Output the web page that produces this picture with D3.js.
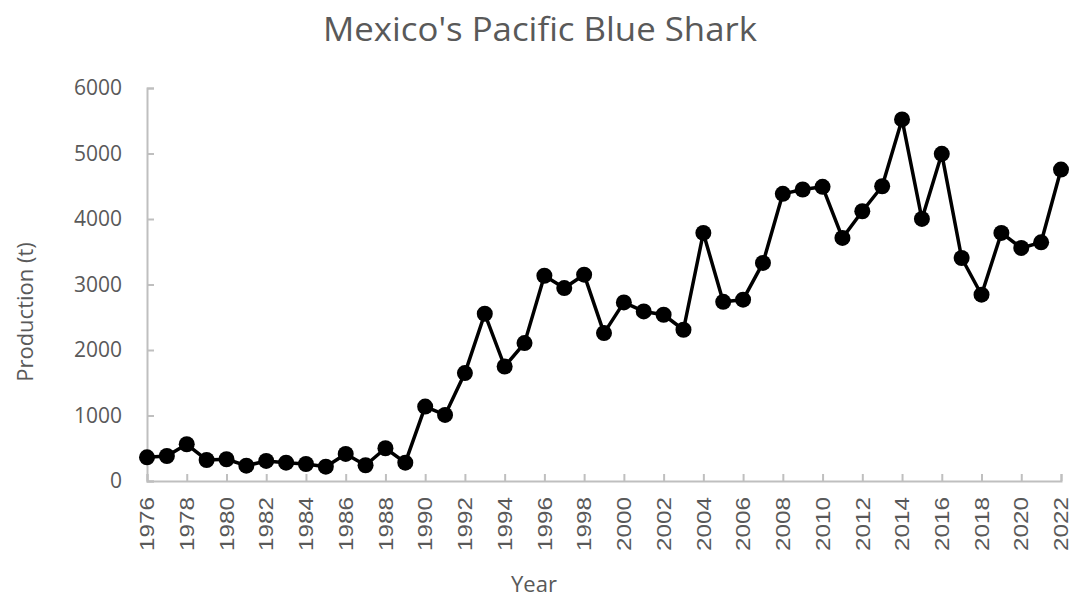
<!DOCTYPE html>
<html>
<head>
<meta charset="utf-8">
<script src="https://cdn.jsdelivr.net/npm/d3@7"></script>
<style>
  html, body { margin: 0; padding: 0; background: #fff; }
  svg { display: block; }
</style>
</head>
<body>
<svg id="chart" width="1071" height="600"></svg>
<script>
// Annual production of blue shark, Mexican Pacific (tonnes)
const years = d3.range(1976, 2023);
const production = [
  362, 382, 561, 321, 332, 234, 306, 280, 260, 219,
  413, 240, 500, 280, 1136, 1009, 1647, 2553, 1748, 2105,
  3134, 2946, 3150, 2258, 2727, 2589, 2538, 2309, 3787, 2735,
  2768, 3329, 4384, 4450, 4491, 3711, 4118, 4500, 5520, 4001,
  4995, 3405, 2844, 3787, 3558, 3644, 4755
];
const yTickValues = [0, 1000, 2000, 3000, 4000, 5000, 6000];
const xTickValues = d3.range(1976, 2023, 2);

const title = "Mexico's Pacific Blue Shark";
const xTitle = "Year";
const yTitle = "Production (t)";

const svg = d3.select("#chart");
const textColor = "#595959";
const axisColor = "#bfbfbf";
const sansFont = "'Open Sans', sans-serif";

const margin = { left: 147, right: 10, top: 88, bottom: 119 };
const width = 1071, height = 600;

const x = d3.scaleLinear()
  .domain([1976, 2022])
  .range([margin.left, width - margin.right]);
const y = d3.scaleLinear()
  .domain([0, 6000])
  .range([height - margin.bottom, margin.top]);

// Title
svg.append("text")
  .attr("x", 540)
  .attr("y", 41)
  .attr("text-anchor", "middle")
  .attr("font-family", sansFont)
  .attr("font-size", 32)
  .attr("fill", textColor)
  .attr("textLength", 434)
  .attr("lengthAdjust", "spacingAndGlyphs")
  .text(title);

// Y axis with inward ticks
const yAxis = svg.append("g")
  .attr("transform", `translate(${margin.left},0)`)
  .call(d3.axisRight(y).tickValues(yTickValues).tickSize(7).tickFormat(""));
yAxis.select(".domain").attr("stroke", axisColor).attr("stroke-width", 2);
yAxis.selectAll(".tick line").attr("stroke", axisColor).attr("stroke-width", 2);

svg.append("g")
  .selectAll("text")
  .data(yTickValues)
  .join("text")
  .attr("x", 122)
  .attr("y", d => y(d))
  .attr("dy", "0.35em")
  .attr("text-anchor", "end")
  .attr("font-family", sansFont)
  .attr("font-size", 21)
  .attr("fill", textColor)
  .text(d => d);

// X axis with inward ticks
const xAxis = svg.append("g")
  .attr("transform", `translate(0,${y(0)})`)
  .call(d3.axisTop(x).tickValues(xTickValues).tickSize(7).tickFormat(""));
xAxis.select(".domain").attr("stroke", axisColor).attr("stroke-width", 2);
xAxis.selectAll(".tick line").attr("stroke", axisColor).attr("stroke-width", 2);

svg.append("g")
  .selectAll("text")
  .data(xTickValues)
  .join("text")
  .attr("transform", d => `translate(${x(d)},497) rotate(-90)`)
  .attr("dy", "0.36em")
  .attr("text-anchor", "end")
  .attr("font-family", "'Liberation Sans', Arial, sans-serif")
  .attr("font-size", 20)
  .attr("fill", textColor)
  .attr("textLength", 54)
  .attr("lengthAdjust", "spacingAndGlyphs")
  .text(d => d);

// Axis titles
svg.append("text")
  .attr("x", 534)
  .attr("y", 592)
  .attr("text-anchor", "middle")
  .attr("font-family", sansFont)
  .attr("font-size", 22)
  .attr("fill", textColor)
  .text(xTitle);

svg.append("text")
  .attr("transform", "translate(33,312) rotate(-90)")
  .attr("text-anchor", "middle")
  .attr("font-family", sansFont)
  .attr("font-size", 22)
  .attr("fill", textColor)
  .text(yTitle);

// Series line and markers
const series = years.map((yr, i) => ({ year: yr, value: production[i] }));

svg.append("path")
  .datum(series)
  .attr("fill", "none")
  .attr("stroke", "#000")
  .attr("stroke-width", 3.5)
  .attr("stroke-linejoin", "round")
  .attr("d", d3.line().x(d => x(d.year)).y(d => y(d.value)));

svg.append("g")
  .selectAll("circle")
  .data(series)
  .join("circle")
  .attr("cx", d => x(d.year))
  .attr("cy", d => y(d.value))
  .attr("r", 8)
  .attr("fill", "#000");
</script>
</body>
</html>
